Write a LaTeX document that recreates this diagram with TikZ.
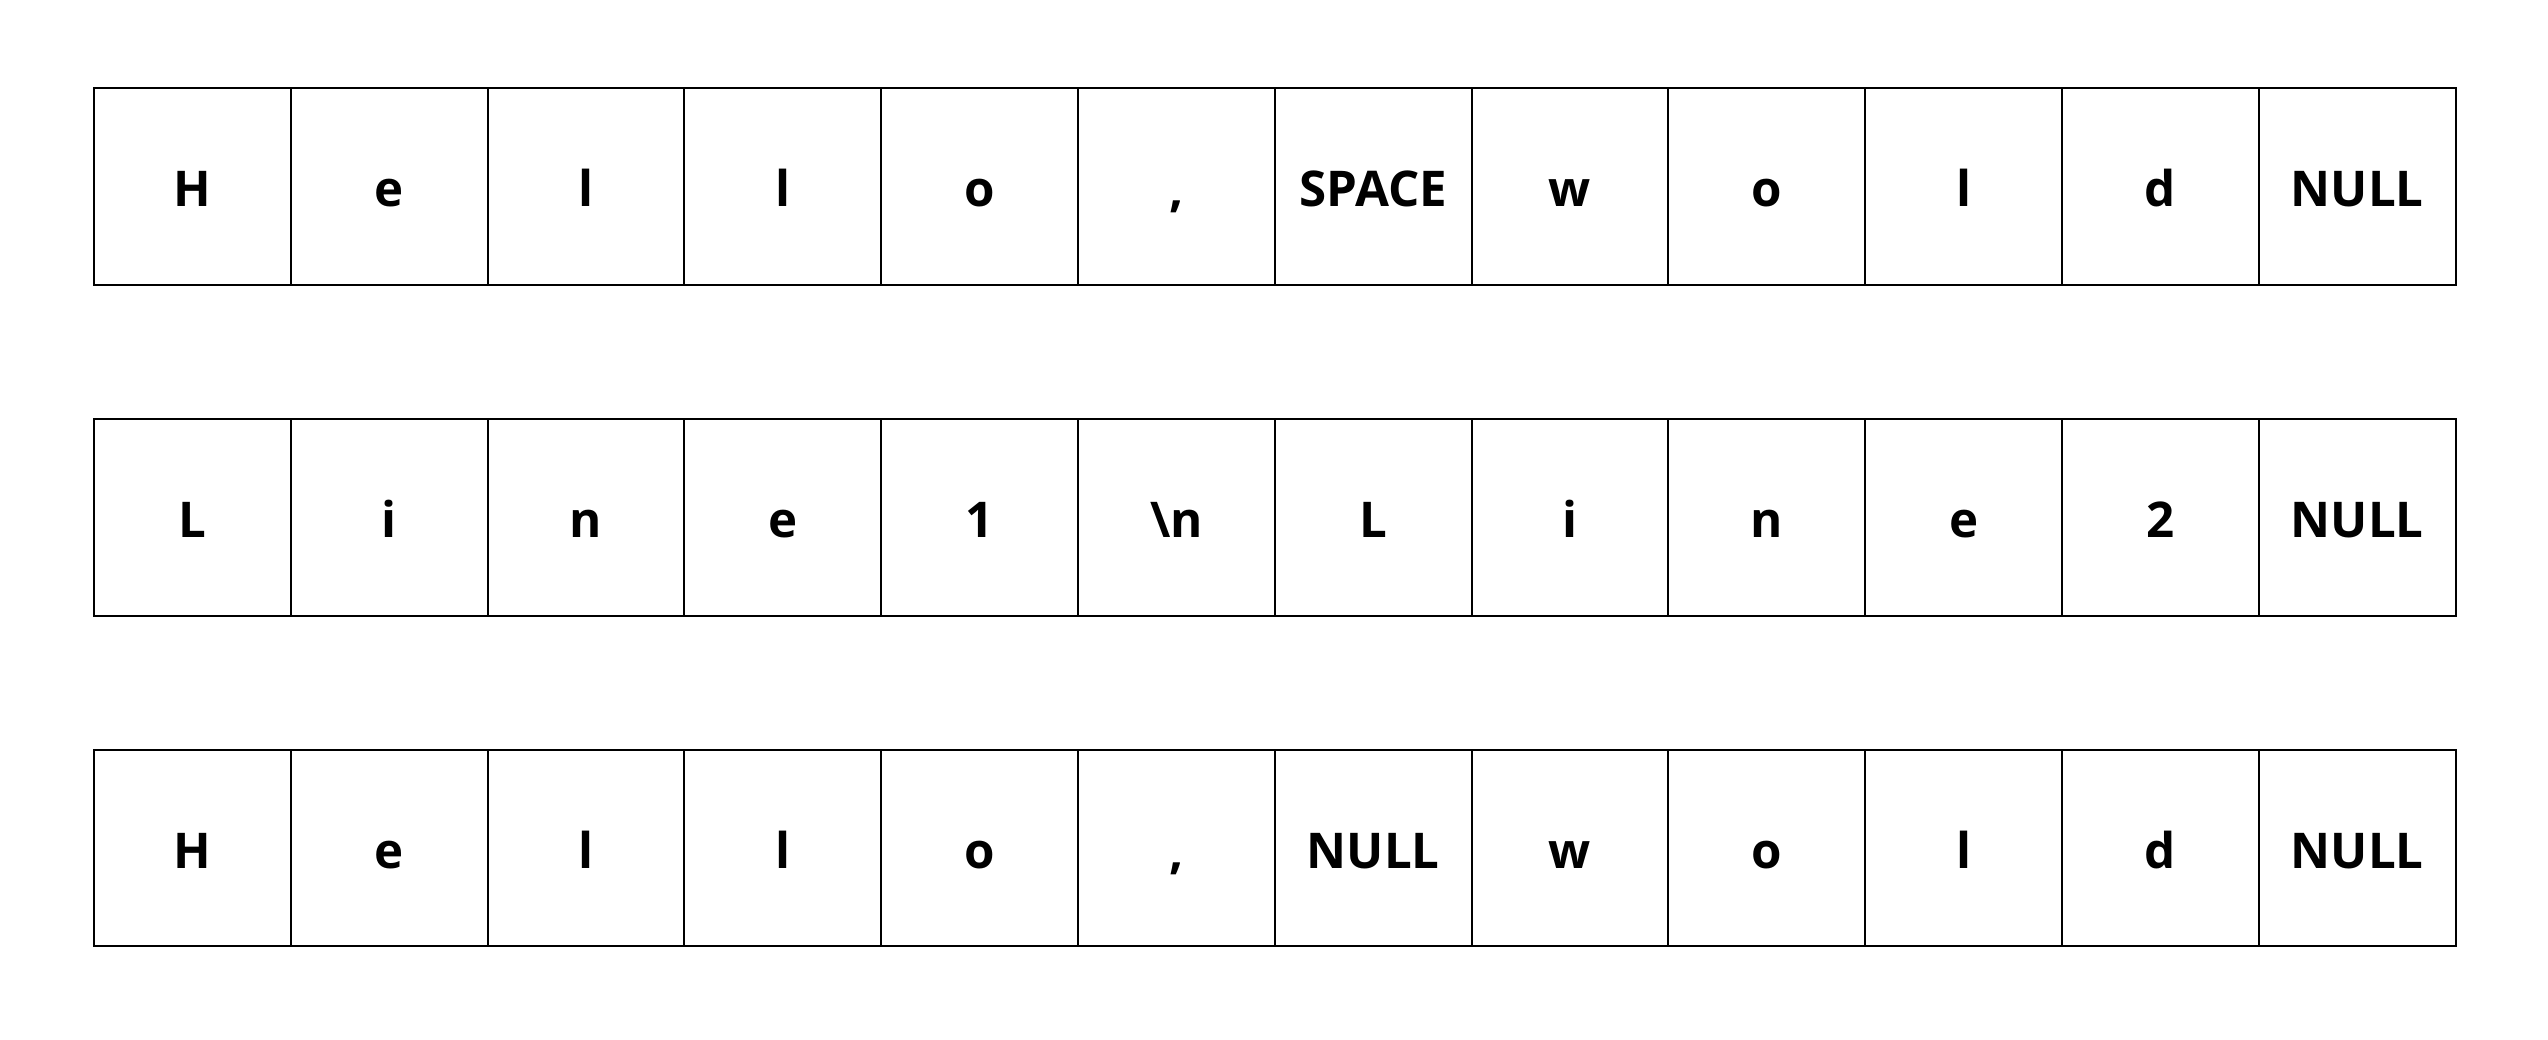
\documentclass[tikz,border=0pt]{standalone}
\usepackage{fontspec}
\setmainfont{Open Sans}
\usetikzlibrary{positioning}

\tikzset{
    cell/.style={draw, line width=0.02cm, minimum width=1.967cm, minimum height=1.967cm,
        inner sep=0pt, outer sep=0pt, text height=0.4cm, text depth=0pt,
        font=\fontsize{14}{16}\selectfont\bfseries}
}

\begin{document}
\begin{tikzpicture}[x=0.01cm, y=-0.01cm]
    \useasboundingbox (0,0) rectangle (2548,1039);
    % row 1
    \node[cell] (a1) at (192.3,186.5) {H};
    \foreach \t [count=\i from 2, evaluate=\i as \j using int(\i-1)] in {e,l,l,o,{,},SPACE,w,o,l,d,NULL}
        \node[cell, right=0pt of a\j] (a\i) {\t};
    % row 2
    \node[cell] (b1) at (192.3,517.5) {L};
    \foreach \t [count=\i from 2, evaluate=\i as \j using int(\i-1)] in {i,n,e,1,\textbackslash n,L,i,n,e,2,NULL}
        \node[cell, right=0pt of b\j] (b\i) {\t};
    % row 3
    \node[cell] (c1) at (192.3,848) {H};
    \foreach \t [count=\i from 2, evaluate=\i as \j using int(\i-1)] in {e,l,l,o,{,},NULL,w,o,l,d,NULL}
        \node[cell, right=0pt of c\j] (c\i) {\t};
\end{tikzpicture}
\end{document}
